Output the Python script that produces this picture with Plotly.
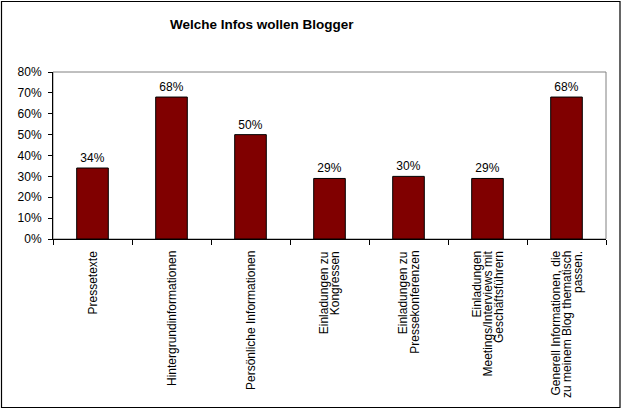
import plotly.graph_objects as go

categories = ["Pressetexte", "Hintergrundinformationen", "Persönliche Informationen",
              "Einladungen zu Kongressen", "Einladungen zu Pressekonferenzen",
              "Einladungen Meetings/Interviews mit Geschäftsführern",
              "Generell Informationen, die zu meinem Blog thematisch passen."]
label_lines = [["Pressetexte"], ["Hintergrundinformationen"], ["Persönliche Informationen"],
               ["Einladungen zu", "Kongressen"], ["Einladungen zu", "Pressekonferenzen"],
               ["Einladungen", "Meetings/Interviews mit", "Geschäftsführern"],
               ["Generell Informationen, die", "zu meinem Blog thematisch", "passen."]]
values = [0.34, 0.68, 0.50, 0.29, 0.30, 0.29, 0.68]
y_ticks = [0, 0.1, 0.2, 0.3, 0.4, 0.5, 0.6, 0.7, 0.8]
title_text = "Welche Infos wollen Blogger"

W, H = 622, 410
L, R, T, B = 53, 16, 72, 171
pw, ph = W - L - R, H - T - B
FONT = "Arial, Liberation Sans, sans-serif"

fig = go.Figure()
fig.add_trace(go.Bar(
    x=categories, y=values,
    marker=dict(color="#800000", line=dict(color="#000000", width=1)),
    text=[f"{v:.0%}" for v in values], textposition="outside",
    textfont=dict(family=FONT, size=12, color="#000000"),
    cliponaxis=False, width=0.4,
))

annotations = []
for cat, lines in zip(categories, label_lines):
    n = len(lines)
    for j, line in enumerate(lines):
        annotations.append(dict(
            x=cat, xref="x", y=0, yref="paper", yshift=-10,
            xshift=(j - (n - 1) / 2) * 11.5,
            text=line, showarrow=False, textangle=-90,
            xanchor="center", yanchor="top",
            font=dict(family=FONT, size=12, color="#000000"),
        ))
annotations.append(dict(
    x=(262 - L) / pw, xref="paper", y=(H - 25 - B) / ph, yref="paper",
    text=f"<b>{title_text}</b>", showarrow=False, xanchor="center", yanchor="middle",
    font=dict(family=FONT, size=13.5, color="#000000"),
))

shapes = [
    # plot area border (gray)
    dict(type="rect", xref="paper", yref="paper", x0=0, y0=0, x1=1, y1=1,
         line=dict(color="#808080", width=1), layer="below"),
    # outer chart border
    dict(type="rect", xref="paper", yref="paper",
         x0=(1.5 - L) / pw, x1=(620 - L) / pw,
         y0=(H - 407.5 - B) / ph, y1=(H - 1.5 - B) / ph,
         line=dict(color="#000000", width=1.2)),
]

fig.update_layout(
    width=W, height=H,
    margin=dict(l=L, r=R, t=T, b=B, pad=0),
    paper_bgcolor="#ffffff", plot_bgcolor="#ffffff",
    showlegend=False, bargap=0.6,
    annotations=annotations, shapes=shapes,
    font=dict(family=FONT, size=12, color="#000000"),
    xaxis=dict(
        type="category", range=[-0.5, len(categories) - 0.5],
        showticklabels=False, ticks="outside", ticklen=5, tickcolor="#000000",
        tickson="boundaries", showline=True, linecolor="#000000", linewidth=1,
        showgrid=False, zeroline=False,
    ),
    yaxis=dict(
        range=[0, 0.8], tickvals=y_ticks, tickformat=".0%",
        ticks="outside", ticklen=4, tickcolor="#000000",
        showline=True, linecolor="#000000", linewidth=1,
        showgrid=False, zeroline=False, ticklabelstandoff=4,
        tickfont=dict(family=FONT, size=12, color="#000000"),
    ),
)

fig.write_html("out.html")
